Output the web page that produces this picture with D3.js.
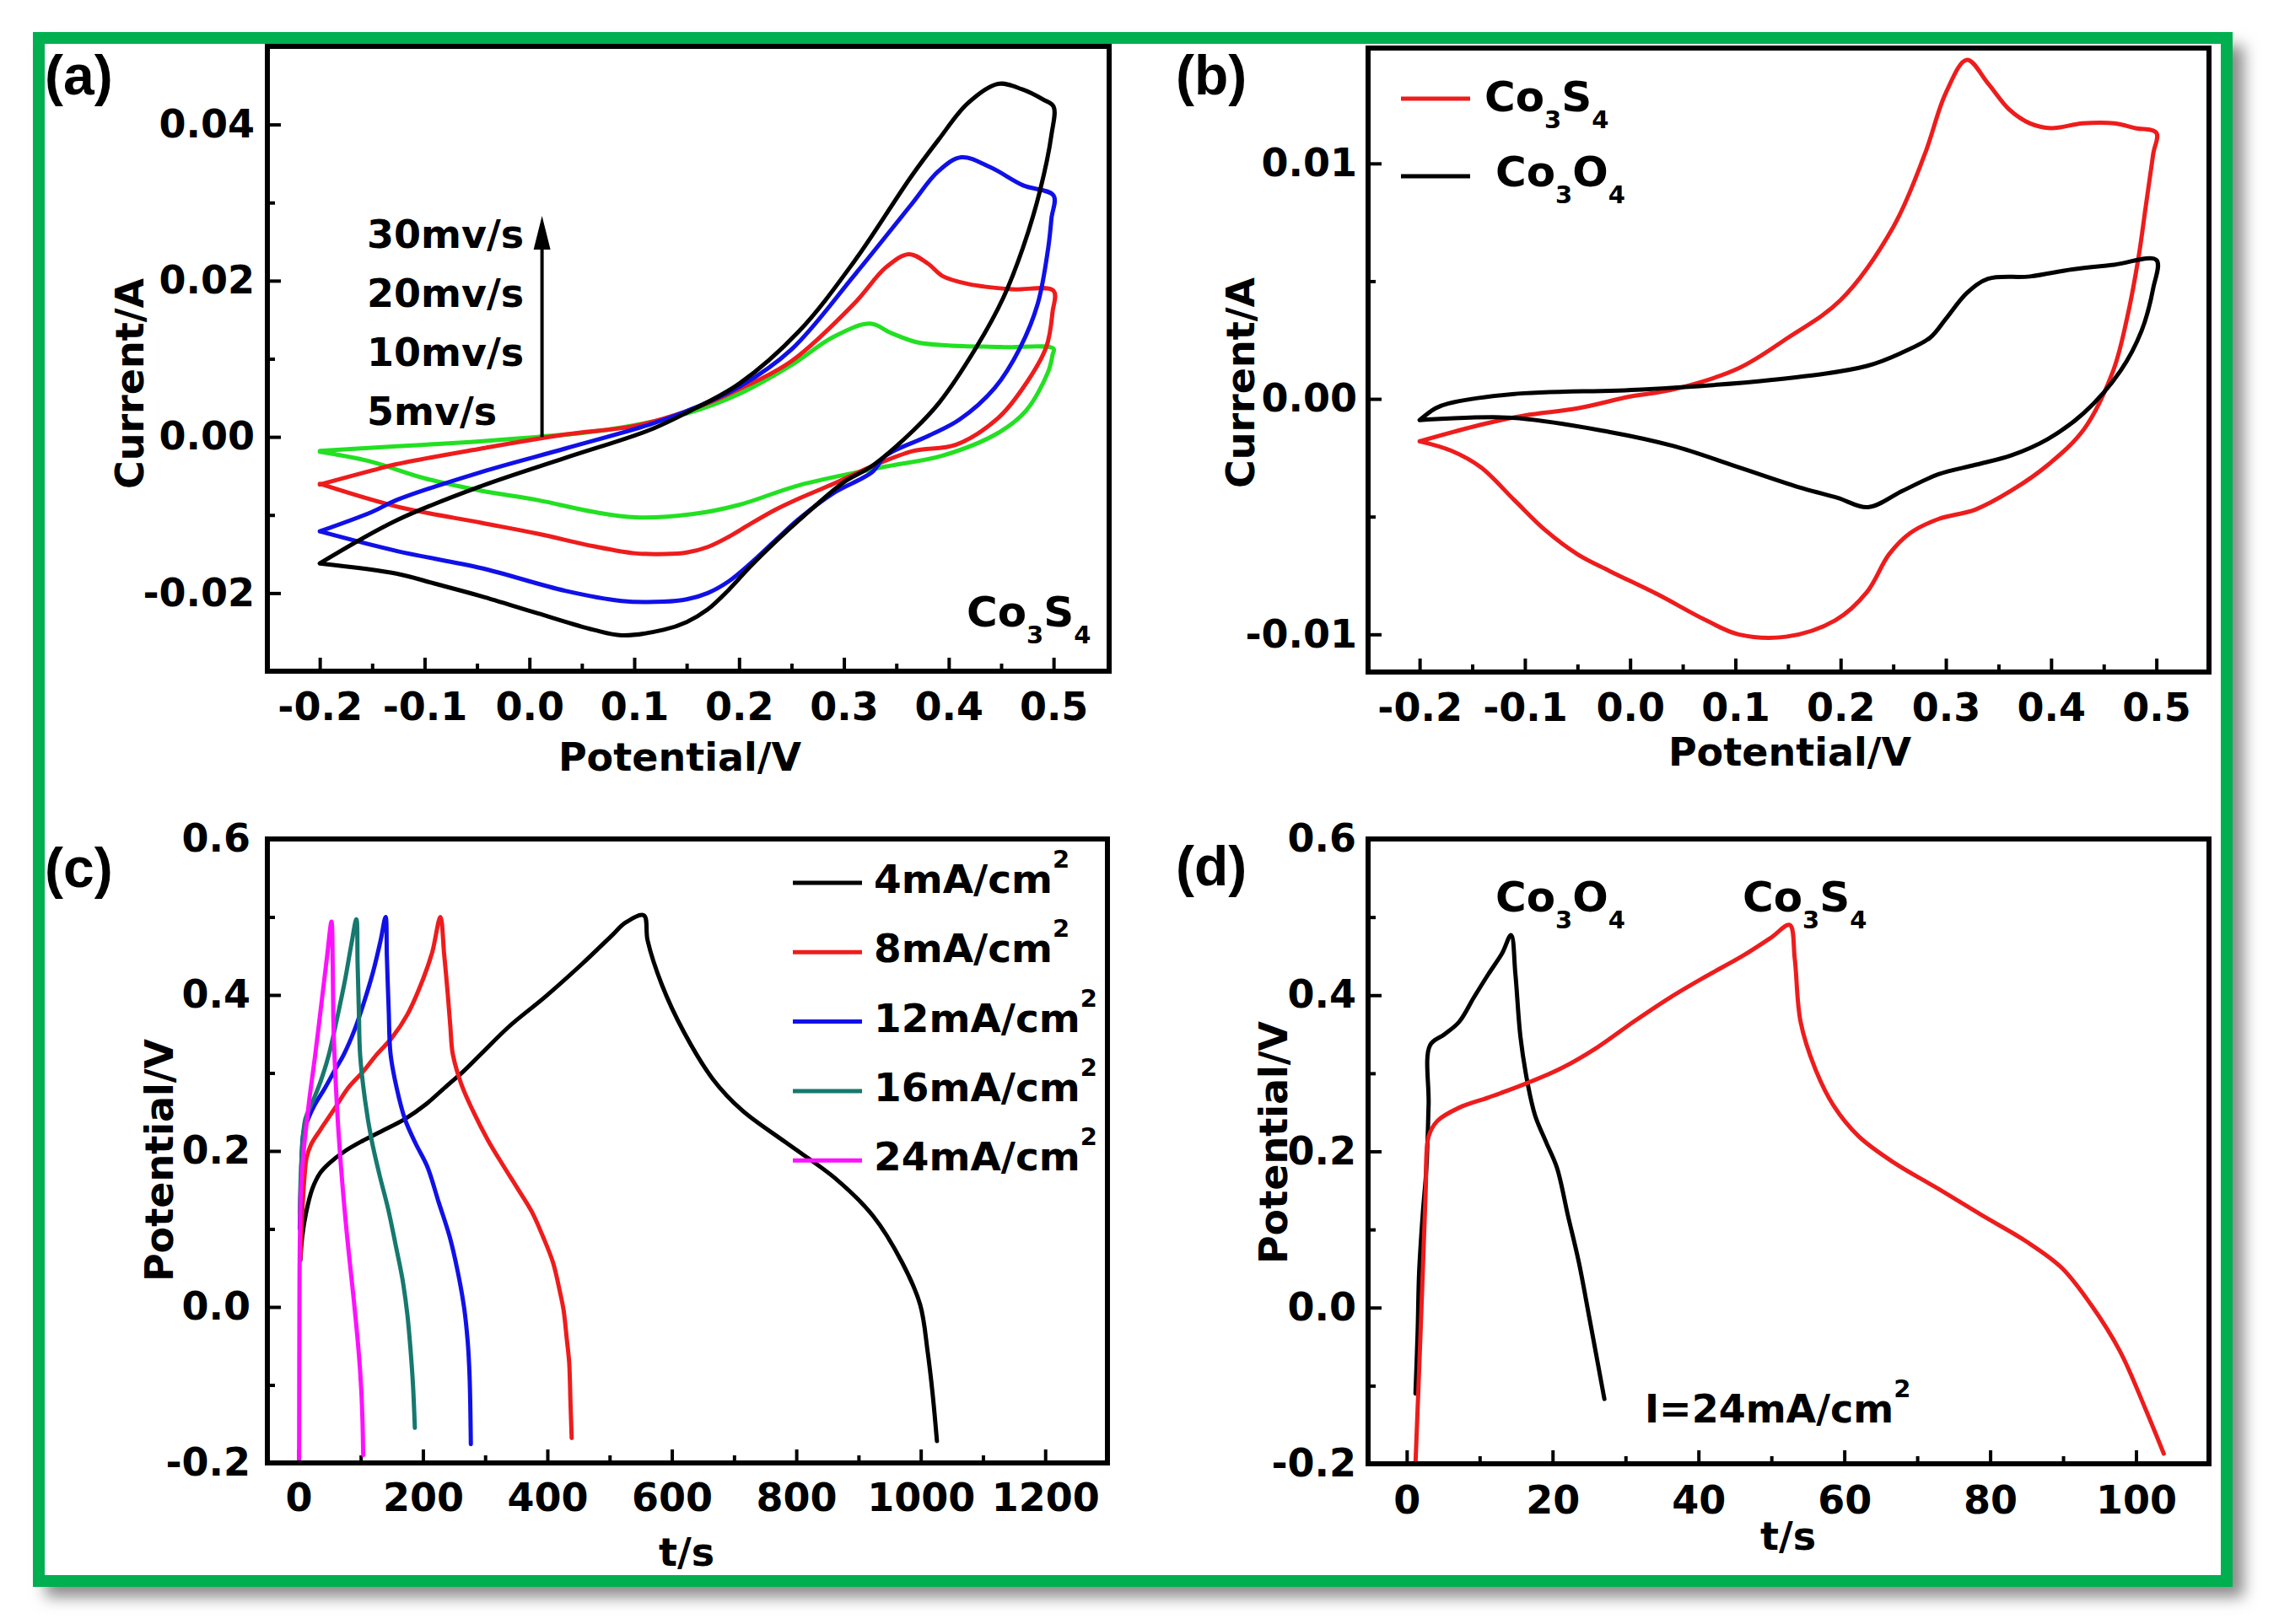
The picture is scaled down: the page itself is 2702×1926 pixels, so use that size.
<!DOCTYPE html>
<html>
<head>
<meta charset="utf-8">
<script src="https://d3js.org/d3.v7.min.js"></script>
<style>
body { margin: 0; background: #fff; }
text { font-family: "DejaVu Sans", sans-serif; font-weight: bold; }
</style>
</head>
<body>
<script>
// ---- panel (a): CV of Co3S4 at several scan rates, [potential V, current A]
var cvRates = ["5mv/s", "10mv/s", "20mv/s", "30mv/s"];
var cvColors = ["#22e022", "#ee1c1c", "#1010e8", "#000000"];
var cv5 = [[-0.2,-0.0018],[-0.15,-0.0014],[-0.1,-0.001],[-0.05,-0.0006],[0.008,0.0],[0.05,0.0005],[0.088,0.0012],[0.15,0.003],[0.2,0.0055],[0.25,0.0092],[0.29,0.0128],[0.325,0.0145],[0.345,0.0133],[0.37,0.0121],[0.4,0.0117],[0.45,0.0115],[0.5,0.0113],
  [0.499,0.0105],[0.495,0.0084],[0.474,0.0034],[0.447,0.0005],[0.394,-0.0024],[0.34,-0.0038],[0.257,-0.0062],[0.2,-0.0087],[0.155,-0.0099],[0.101,-0.0103],[0.061,-0.0096],[0.008,-0.0081],[-0.046,-0.0069],[-0.1,-0.0053],[-0.153,-0.0031],[-0.2,-0.0019]];
var cv10 = [[-0.2,-0.0061],[-0.15,-0.0043],[-0.127,-0.0035],[-0.046,-0.0015],[0.034,0.0003],[0.1,0.0014],[0.15,0.0033],[0.2,0.0061],[0.25,0.0097],[0.31,0.0171],[0.34,0.0217],[0.362,0.0234],[0.38,0.0222],[0.394,0.0206],[0.418,0.0196],[0.46,0.0189],[0.5,0.0187],
  [0.499,0.016],[0.493,0.0115],[0.471,0.0063],[0.447,0.0024],[0.407,-0.001],[0.366,-0.0018],[0.326,-0.0038],[0.29,-0.006],[0.257,-0.0079],[0.235,-0.0093],[0.21,-0.0112],[0.19,-0.0128],[0.17,-0.0141],[0.15,-0.0148],[0.13,-0.015],[0.1,-0.0149],[0.061,-0.014],[0.008,-0.0124],[-0.046,-0.011],[-0.127,-0.0089],[-0.2,-0.006]];
var cv20 = [[-0.2,-0.0121],[-0.15,-0.0096],[-0.127,-0.0081],[-0.046,-0.0045],[0.034,-0.0015],[0.115,0.0016],[0.15,0.0033],[0.2,0.0064],[0.25,0.0112],[0.31,0.0207],[0.364,0.0297],[0.39,0.034],[0.412,0.0358],[0.44,0.0345],[0.471,0.0322],[0.5,0.0309],
  [0.498,0.028],[0.495,0.0243],[0.485,0.0171],[0.468,0.0114],[0.444,0.0063],[0.41,0.0022],[0.38,0.0001],[0.34,-0.0024],[0.327,-0.0045],[0.29,-0.0072],[0.257,-0.0105],[0.235,-0.0132],[0.21,-0.0163],[0.19,-0.0185],[0.17,-0.02],[0.15,-0.0208],[0.128,-0.0211],[0.088,-0.021],[0.034,-0.0197],[-0.046,-0.0168],[-0.127,-0.0146],[-0.2,-0.0121]];
var cv30 = [[-0.2,-0.0162],[-0.127,-0.0107],[-0.046,-0.0063],[0.034,-0.0027],[0.115,0.0009],[0.15,0.0031],[0.2,0.0068],[0.257,0.0135],[0.31,0.0225],[0.364,0.0333],[0.39,0.038],[0.418,0.0427],[0.447,0.0452],[0.47,0.0445],[0.49,0.0432],[0.5,0.0423],
  [0.498,0.0387],[0.487,0.0315],[0.471,0.0243],[0.452,0.0178],[0.426,0.0114],[0.391,0.0044],[0.366,0.0008],[0.326,-0.0038],[0.3,-0.0058],[0.257,-0.0107],[0.235,-0.0134],[0.21,-0.0167],[0.19,-0.0196],[0.17,-0.0221],[0.15,-0.0237],[0.128,-0.0247],[0.088,-0.0254],[0.061,-0.0247],[0.008,-0.0226],[-0.046,-0.0204],[-0.09,-0.0188],[-0.127,-0.0175],[-0.2,-0.0162]];
var arrowX = 0.012, arrowFrom = 0.0, arrowTo = 0.0283;

// ---- panel (b): CV of Co3S4 vs Co3O4
var cvS = [[-0.2,-0.0018],[-0.142,-0.0011],[-0.1,-0.0007],[-0.05,-0.0004],[0.0,0.0001],[0.041,0.0004],[0.103,0.0013],[0.15,0.0026],[0.2,0.0042],[0.25,0.0073],[0.28,0.0104],[0.3,0.013],[0.32,0.0144],[0.34,0.0134],[0.36,0.0123],[0.38,0.0117],[0.4,0.0115],[0.43,0.0117],[0.46,0.0117],[0.48,0.0115],[0.5,0.0113],
  [0.497,0.0104],[0.49,0.0082],[0.483,0.006],[0.472,0.0034],[0.459,0.0012],[0.431,-0.0013],[0.397,-0.0028],[0.362,-0.0039],[0.328,-0.0047],[0.293,-0.0051],[0.266,-0.0057],[0.246,-0.0066],[0.225,-0.0082],[0.195,-0.0094],[0.148,-0.0101],[0.103,-0.01],[0.072,-0.0094],[0.026,-0.0083],[-0.02,-0.0073],[-0.05,-0.0066],[-0.08,-0.0056],[-0.11,-0.0043],[-0.142,-0.0029],[-0.17,-0.0022],[-0.2,-0.0018]];
var cvO = [[-0.2,-0.0009],[-0.185,-0.0004],[-0.173,-0.0002],[-0.112,0.0002],[0.011,0.0004],[0.133,0.0008],[0.225,0.0014],[0.26,0.002],[0.285,0.0026],[0.3,0.0034],[0.32,0.0045],[0.34,0.0051],[0.38,0.0052],[0.42,0.0055],[0.46,0.0057],[0.5,0.0059],
  [0.497,0.0047],[0.486,0.0029],[0.466,0.0012],[0.431,-0.0006],[0.397,-0.0017],[0.362,-0.0024],[0.328,-0.0028],[0.293,-0.0032],[0.259,-0.0039],[0.226,-0.0046],[0.197,-0.0042],[0.164,-0.0038],[0.103,-0.0029],[0.041,-0.002],[-0.02,-0.0014],[-0.112,-0.0008],[-0.2,-0.0009]];

// ---- panel (c): charge/discharge at several current densities, [t s, potential V]
var gcdLabels = ["4mA/cm", "8mA/cm", "12mA/cm", "16mA/cm", "24mA/cm"];
var gcdColors = ["#000000", "#ee1c1c", "#1010e8", "#16786e", "#ff10ff"];
var gcd4 = [[3,0.06],[6,0.09],[12,0.12],[22,0.151],[35,0.172],[49,0.184],[75,0.2],[103,0.213],[135,0.226],[171,0.241],[205,0.26],[239,0.284],[265,0.302],[293,0.324],[339,0.36],[397,0.398],[456,0.44],[502,0.475],[526,0.493],[555,0.502],
  [561,0.47],[584,0.413],[619,0.353],[666,0.292],[713,0.252],[783,0.211],[864,0.164],[923,0.117],[970,0.057],[999,0.003],[1011,-0.057],[1019,-0.111],[1026,-0.172]];
var gcd8 = [[3,0.06],[6,0.12],[10,0.17],[13,0.191],[20,0.208],[35,0.227],[57,0.253],[80,0.281],[104,0.302],[126,0.324],[150,0.345],[175,0.375],[200,0.42],[215,0.455],[228,0.5],
  [234,0.453],[240,0.4],[244,0.36],[248,0.324],[262,0.285],[280,0.252],[305,0.213],[330,0.18],[352,0.152],[375,0.122],[393,0.09],[409,0.057],[420,0.02],[426,-0.004],[431,-0.04],[435,-0.071],[437,-0.12],[439,-0.168]];
var gcd12 = [[2,0.1],[4,0.16],[8,0.224],[15,0.24],[26,0.259],[42,0.28],[58,0.303],[73,0.324],[90,0.355],[105,0.39],[120,0.43],[132,0.47],[140,0.5],
  [142,0.45],[145,0.38],[148,0.324],[158,0.28],[171,0.241],[188,0.21],[207,0.18],[225,0.135],[243,0.09],[256,0.045],[266,0.0],[272,-0.045],[275,-0.09],[277,-0.176]];
var gcd16 = [[2,0.12],[5,0.19],[11,0.241],[22,0.262],[35,0.288],[49,0.324],[62,0.37],[75,0.42],[85,0.465],[93,0.497],
  [95,0.44],[97,0.38],[99,0.324],[107,0.265],[117,0.216],[130,0.17],[144,0.126],[156,0.08],[167,0.036],[175,-0.01],[180,-0.054],[184,-0.1],[187,-0.155]];
var gcd24 = [[1,-0.2],[1.5,0.0],[2,0.07],[4,0.15],[8,0.198],[13,0.235],[18,0.27],[27,0.324],[37,0.39],[46,0.45],[53,0.494],
  [55,0.44],[56,0.37],[58,0.32],[65,0.216],[76,0.108],[90,0.0],[97,-0.06],[101,-0.108],[103,-0.15],[104,-0.19]];

// ---- panel (d): Co3O4 vs Co3S4 at 24 mA/cm2
var gcdO = [[1.2,-0.11],[1.5,-0.03],[1.7,0.045],[2.2,0.12],[2.7,0.179],[3.0,0.26],[3.2,0.336],[5.2,0.35],[7.2,0.366],[9.2,0.397],[11.2,0.427],[13.1,0.454],[14.3,0.477],
  [14.9,0.427],[15.6,0.346],[16.6,0.286],[17.6,0.246],[19.1,0.212],[20.6,0.179],[22.1,0.118],[23.6,0.058],[25.1,-0.016],[27.1,-0.117]];
var gcdS = [[1.2,-0.2],[1.7,-0.08],[2.2,0.045],[2.6,0.15],[3,0.219],[4.2,0.239],[7.2,0.256],[11.2,0.269],[16.1,0.286],[21.1,0.306],[26.1,0.333],[31.1,0.366],[36.1,0.397],[41,0.424],[46,0.45],[50,0.474],[52.5,0.49],
  [53.2,0.447],[54,0.366],[56,0.306],[58.5,0.259],[62,0.219],[66.9,0.185],[72.9,0.152],[78.9,0.118],[84.9,0.085],[89.8,0.051],[93.8,0.004],[97.8,-0.056],[101.3,-0.13],[103.8,-0.187]];

// ---- ticks
var cvXTicks = [-0.2,-0.1,0.0,0.1,0.2,0.3,0.4,0.5];
var cvXMinor = [-0.15,-0.05,0.05,0.15,0.25,0.35,0.45];
var aYTicks = [-0.02,0.0,0.02,0.04];
var aYMinor = [-0.01,0.01,0.03];
var bYTicks = [-0.01,0.0,0.01];
var bYMinor = [-0.005,0.005];
var potTicks = [-0.2,0.0,0.2,0.4,0.6];
var potMinor = [-0.1,0.1,0.3,0.5];
var cXTicks = [0,200,400,600,800,1000,1200];
var cXMinor = [100,300,500,700,900,1100];
var dXTicks = [0,20,40,60,80,100];
var dXMinor = [10,30,50,70,90];

var W = 2702, H = 1926;
var svg = d3.select("body").append("svg").attr("width", W).attr("height", H);

// frame with green border and soft shadow
var defs = svg.append("defs");
defs.append("filter").attr("id", "shadow")
  .attr("x", "-5%").attr("y", "-5%").attr("width", "110%").attr("height", "110%")
  .append("feGaussianBlur").attr("stdDeviation", 9);
svg.append("rect").attr("x", 54).attr("y", 54).attr("width", 2606).attr("height", 1840)
  .attr("fill", "#8a8a8a").attr("filter", "url(#shadow)");
svg.append("rect").attr("x", 39).attr("y", 38).attr("width", 2608).attr("height", 1844).attr("fill", "#fff");
svg.append("rect").attr("x", 46).attr("y", 45).attr("width", 2594).attr("height", 1830)
  .attr("fill", "none").attr("stroke", "#00af50").attr("stroke-width", 14);

var curve = d3.curveCatmullRom.alpha(0.5);

function fmt(n) { return function(d) { return d.toFixed(n); }; }

//makePanel: scales, ticks and frame of one plot
function makePanel(o) {
  var g = svg.append("g");
  var x = d3.scaleLinear().domain(o.xDom).range([o.left, o.right]);
  var y = d3.scaleLinear().domain(o.yDom).range([o.bottom, o.top]);

  var axes = [
    g.append("g").attr("transform", "translate(0," + o.bottom + ")")
      .call(d3.axisBottom(x).tickValues(o.xMinor).tickSize(-9).tickFormat(function() { return ""; })),
    g.append("g").attr("transform", "translate(0," + o.bottom + ")")
      .call(d3.axisBottom(x).tickValues(o.xTicks).tickSize(-16).tickPadding(o.xPad).tickFormat(o.xFmt)),
    g.append("g").attr("transform", "translate(" + o.left + ",0)")
      .call(d3.axisLeft(y).tickValues(o.yMinor).tickSize(-9).tickFormat(function() { return ""; })),
    g.append("g").attr("transform", "translate(" + o.left + ",0)")
      .call(d3.axisLeft(y).tickValues(o.yTicks).tickSize(-16).tickPadding(o.yPad).tickFormat(o.yFmt))
  ];
  axes.forEach(function(a) {
    a.select(".domain").remove();
    a.attr("font-family", null).attr("font-size", 46);
    a.selectAll("line").attr("stroke", "#000").attr("stroke-width", 4);
    a.selectAll("text").attr("fill", "#000");
  });

  var plot = svg.append("g");
  svg.append("rect").attr("x", o.left).attr("y", o.top)
    .attr("width", o.right - o.left).attr("height", o.bottom - o.top)
    .attr("fill", "none").attr("stroke", "#000").attr("stroke-width", 6);

  svg.append("text").attr("x", o.xt[0]).attr("y", o.xt[1]).attr("text-anchor", "middle")
    .attr("font-size", 46).text(o.xTitle);
  svg.append("text").attr("transform", "translate(" + o.yt[0] + "," + o.yt[1] + ") rotate(-90)")
    .attr("text-anchor", "middle").attr("font-size", 46).text(o.yTitle);
  svg.append("text").attr("x", o.lab[0]).attr("y", o.lab[1])
    .style("font-family", "'Liberation Sans', Arial, sans-serif").attr("font-size", 66).text(o.label);

  return { x: x, y: y, g: plot };
}

function drawLine(p, data, color) {
  var line = d3.line().x(function(d) { return p.x(d[0]); }).y(function(d) { return p.y(d[1]); }).curve(curve);
  p.g.append("path").datum(data).attr("d", line)
    .attr("fill", "none").attr("stroke", color).attr("stroke-width", 5)
    .attr("stroke-linejoin", "round").attr("stroke-linecap", "round");
}

//chem: formula with subscripts, e.g. Co3S4
function chem(x, y, parts, size) {
  var t = svg.append("text").attr("x", x).attr("y", y).attr("font-size", size);
  var low = false;
  parts.forEach(function(s) {
    var isNum = /^[0-9]$/.test(s);
    var dy = 0;
    if (isNum && !low) { dy = 20; low = true; }
    else if (!isNum && low) { dy = -20; low = false; }
    t.append("tspan").attr("dy", dy).attr("font-size", isNum ? 29 : size).text(s);
  });
}

function withSup(x, y, main, sup, size) {
  var t = svg.append("text").attr("x", x).attr("y", y).attr("font-size", size);
  t.append("tspan").text(main);
  t.append("tspan").attr("dy", -30).attr("font-size", 29).text(sup);
}

// ---------- (a)
var pa = makePanel({
  left: 317, right: 1315, top: 55, bottom: 796,
  xDom: [-0.25, 0.553], yDom: [-0.03, 0.05],
  xTicks: cvXTicks, xMinor: cvXMinor, yTicks: aYTicks, yMinor: aYMinor,
  xFmt: fmt(1), yFmt: fmt(2), xPad: 25, yPad: 15,
  xTitle: "Potential/V", yTitle: "Current/A",
  xt: [806, 914], yt: [170, 455], label: "(a)", lab: [53, 112]
});
[cv5, cv10, cv20, cv30].forEach(function(d, i) { drawLine(pa, d, cvColors[i]); });
var ax = pa.x(arrowX), ay0 = pa.y(arrowFrom), ay1 = pa.y(arrowTo);
svg.append("line").attr("x1", ax).attr("x2", ax).attr("y1", ay0).attr("y2", ay1 + 30)
  .attr("stroke", "#000").attr("stroke-width", 4);
svg.append("path").attr("d", "M" + ax + "," + ay1 + "L" + (ax - 10) + "," + (ay1 + 40) + "L" + (ax + 10) + "," + (ay1 + 40) + "Z")
  .attr("fill", "#000");
cvRates.slice().reverse().forEach(function(r, i) {
  svg.append("text").attr("x", 435).attr("y", 294 + i * 70).attr("font-size", 46).text(r);
});
chem(1146, 743, ["Co", "3", "S", "4"], 50);

// ---------- (b)
var pb = makePanel({
  left: 1622, right: 2619, top: 57, bottom: 797,
  xDom: [-0.249, 0.55], yDom: [-0.0116, 0.0149],
  xTicks: cvXTicks, xMinor: cvXMinor, yTicks: bYTicks, yMinor: bYMinor,
  xFmt: fmt(1), yFmt: fmt(2), xPad: 25, yPad: 13,
  xTitle: "Potential/V", yTitle: "Current/A",
  xt: [2122, 908], yt: [1487, 454], label: "(b)", lab: [1394, 112]
});
drawLine(pb, cvS, "#ee1c1c");
drawLine(pb, cvO, "#000000");
svg.append("line").attr("x1", 1661).attr("x2", 1743).attr("y1", 117).attr("y2", 117).attr("stroke", "#ee1c1c").attr("stroke-width", 5);
svg.append("line").attr("x1", 1661).attr("x2", 1743).attr("y1", 209).attr("y2", 209).attr("stroke", "#000").attr("stroke-width", 5);
chem(1760, 132, ["Co", "3", "S", "4"], 50);
chem(1773, 221, ["Co", "3", "O", "4"], 50);

// ---------- (c)
var pc = makePanel({
  left: 317, right: 1313, top: 995, bottom: 1735,
  xDom: [-50, 1300], yDom: [-0.2, 0.6],
  xTicks: cXTicks, xMinor: cXMinor, yTicks: potTicks, yMinor: potMinor,
  xFmt: fmt(0), yFmt: fmt(1), xPad: 24, yPad: 20,
  xTitle: "t/s", yTitle: "Potential/V",
  xt: [814, 1857], yt: [205, 1376], label: "(c)", lab: [53, 1052]
});
[gcd4, gcd8, gcd12, gcd16, gcd24].forEach(function(d, i) { drawLine(pc, d, gcdColors[i]); });
gcdLabels.forEach(function(l, i) {
  var ly = 1047 + i * 82.3;
  svg.append("line").attr("x1", 940).attr("x2", 1022).attr("y1", ly).attr("y2", ly)
    .attr("stroke", gcdColors[i]).attr("stroke-width", 5);
  withSup(1036, ly + 12, l, "2", 47);
});

// ---------- (d)
var pd = makePanel({
  left: 1622, right: 2619, top: 995, bottom: 1736,
  xDom: [-5.3, 110], yDom: [-0.2, 0.6],
  xTicks: dXTicks, xMinor: dXMinor, yTicks: potTicks, yMinor: potMinor,
  xFmt: fmt(0), yFmt: fmt(1), xPad: 26, yPad: 14,
  xTitle: "t/s", yTitle: "Potential/V",
  xt: [2120, 1838], yt: [1526, 1355], label: "(d)", lab: [1394, 1050]
});
drawLine(pd, gcdO, "#000000");
drawLine(pd, gcdS, "#ee1c1c");
chem(1773, 1081, ["Co", "3", "O", "4"], 50);
chem(2066, 1081, ["Co", "3", "S", "4"], 50);
withSup(1950, 1687, "I=24mA/cm", "2", 46);
</script>
</body>
</html>
